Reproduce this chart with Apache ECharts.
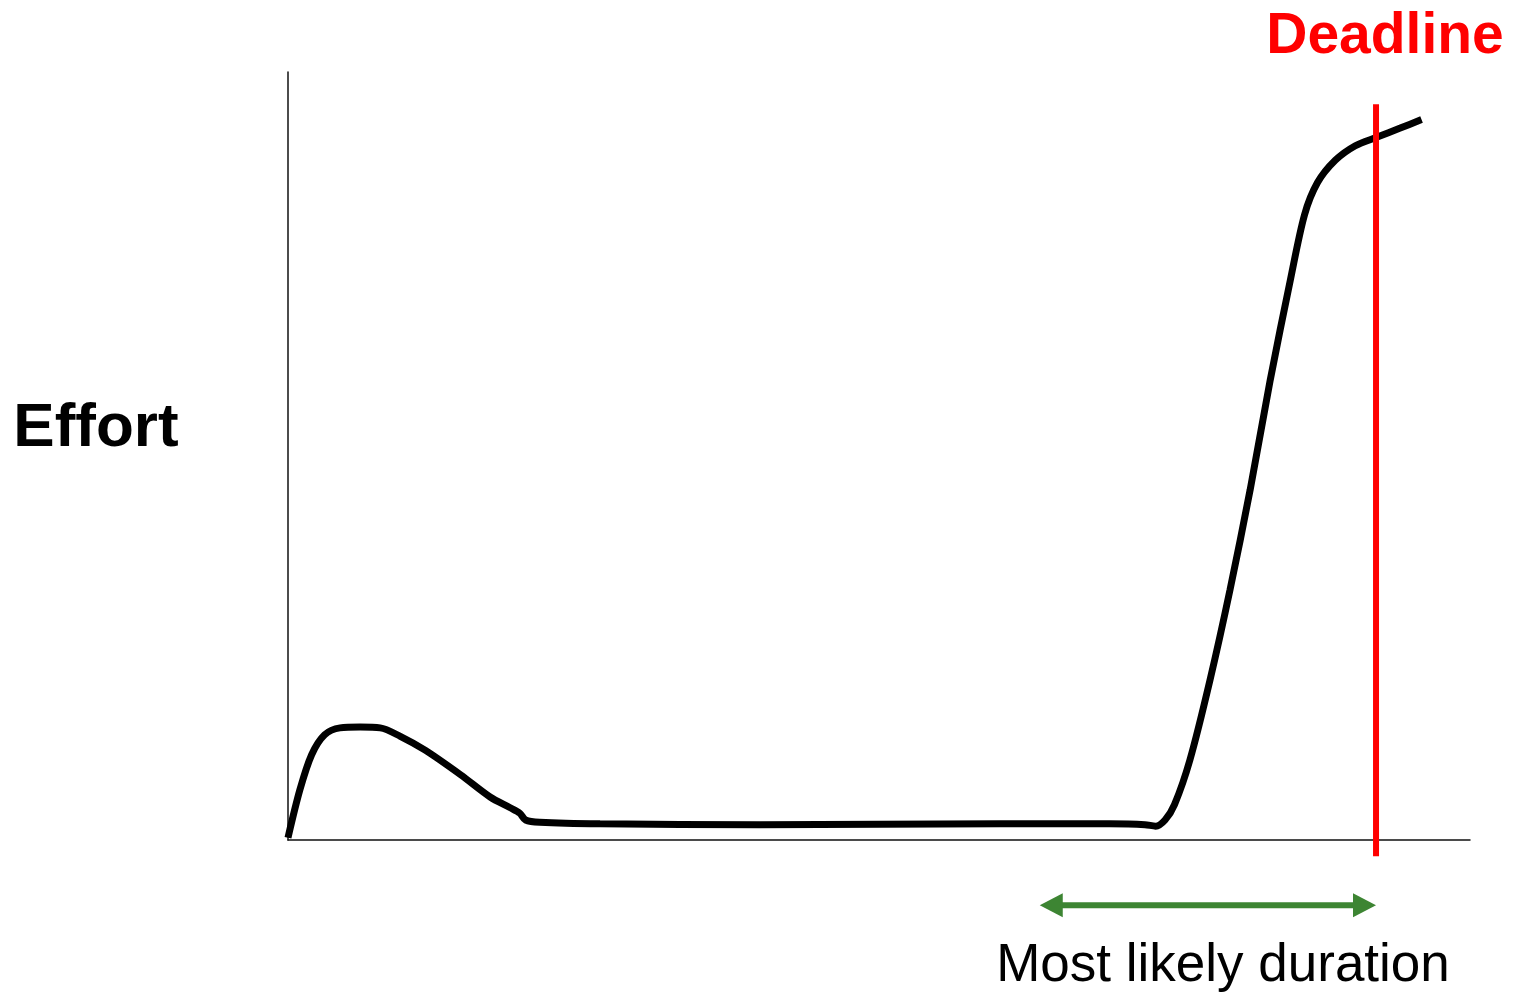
<!DOCTYPE html>
<html>
<head>
<meta charset="utf-8">
<script src="https://cdn.jsdelivr.net/npm/echarts@6/dist/echarts.min.js"></script>
<style>
  html, body { margin: 0; padding: 0; background: #fff; }
  #effort { width: 1520px; height: 994px; }
</style>
</head>
<body>
<div id="effort"></div>
<script>
var chartDom = document.getElementById('effort');
var myChart = echarts.init(chartDom);
var option;

// effort over time (time 0..100, effort 0..100)
var timeData = [0, 1.0, 2.0, 3.1, 4.4, 6.1, 7.8, 9.5, 11.6, 14.6, 17.1, 18.8, 19.6, 20.1, 21.3, 26.4, 39.9, 60.2, 69.5, 72.5, 73.4, 74.2, 75.0, 76.3, 78.0, 79.7, 81.4, 83.1, 84.8, 86.0, 87.1, 88.6, 90.3, 92.1, 94.1, 95.9];
var effortData = [0.3, 6.5, 11.1, 13.7, 14.6, 14.7, 14.6, 13.5, 11.7, 8.5, 5.6, 4.2, 3.5, 2.6, 2.3, 2.1, 2.0, 2.1, 2.1, 2.0, 1.8, 2.6, 4.6, 10.4, 20.8, 32.6, 45.6, 59.9, 72.9, 81.4, 85.6, 88.5, 90.4, 91.5, 92.7, 93.8];

var deadline = 92.05;
var deadlineSpan = [-2.1, 95.8];
var durationRange = [63.6, 92.05];
var durationLevel = -8.5;

var curve = [];
for (var i = 0; i < timeData.length; i++) {
  curve.push([timeData[i], effortData[i]]);
}

option = {
  animation: false,
  grid: {
    left: 288,
    right: 50,
    top: 72,
    bottom: 154
  },
  xAxis: {
    type: 'value',
    min: 0,
    max: 100,
    axisLine: { show: true, lineStyle: { color: '#111', width: 1.5 } },
    axisTick: { show: false },
    axisLabel: { show: false },
    splitLine: { show: false }
  },
  yAxis: {
    type: 'value',
    min: 0,
    max: 100,
    axisLine: { show: true, lineStyle: { color: '#111', width: 1.5 } },
    axisTick: { show: false },
    axisLabel: { show: false },
    splitLine: { show: false }
  },
  graphic: [
    {
      type: 'text',
      x: 96,
      y: 429,
      style: {
        text: 'Effort',
        font: 'bold 62px "Liberation Sans", Arial, sans-serif',
        fill: '#000',
        align: 'center',
        verticalAlign: 'middle'
      }
    },
    {
      type: 'text',
      x: 1385,
      y: 37,
      style: {
        text: 'Deadline',
        font: 'bold 57px "Liberation Sans", Arial, sans-serif',
        fill: '#ff0000',
        align: 'center',
        verticalAlign: 'middle'
      }
    },
    {
      type: 'text',
      x: 1223,
      y: 966,
      style: {
        text: 'Most likely duration',
        font: '53px "Liberation Sans", Arial, sans-serif',
        fill: '#000',
        align: 'center',
        verticalAlign: 'middle'
      }
    }
  ],
  series: [
    {
      type: 'line',
      name: 'effort',
      data: curve,
      smooth: 0.3,
      showSymbol: false,
      lineStyle: { color: '#000', width: 7 },
      z: 3
    },
    {
      type: 'line',
      name: 'deadline',
      data: [[deadline, deadlineSpan[0]], [deadline, deadlineSpan[1]]],
      showSymbol: false,
      clip: false,
      lineStyle: { color: '#ff0000', width: 6, cap: 'butt' },
      z: 4
    },
    {
      type: 'custom',
      name: 'duration',
      clip: false,
      data: [[durationRange[0], durationRange[1], durationLevel]],
      renderItem: function (params, api) {
        var a = api.coord([api.value(0), api.value(2)]);
        var b = api.coord([api.value(1), api.value(2)]);
        var head = 23, half = 12;
        var green = '#3d8533';
        return {
          type: 'group',
          children: [
            {
              type: 'line',
              shape: { x1: a[0] + head - 2, y1: a[1], x2: b[0] - head + 2, y2: b[1] },
              style: { stroke: green, lineWidth: 6 }
            },
            {
              type: 'polygon',
              shape: { points: [[a[0], a[1]], [a[0] + head, a[1] - half], [a[0] + head, a[1] + half]] },
              style: { fill: green }
            },
            {
              type: 'polygon',
              shape: { points: [[b[0], b[1]], [b[0] - head, b[1] - half], [b[0] - head, b[1] + half]] },
              style: { fill: green }
            }
          ]
        };
      },
      z: 5
    }
  ]
};

option && myChart.setOption(option);
</script>
</body>
</html>
